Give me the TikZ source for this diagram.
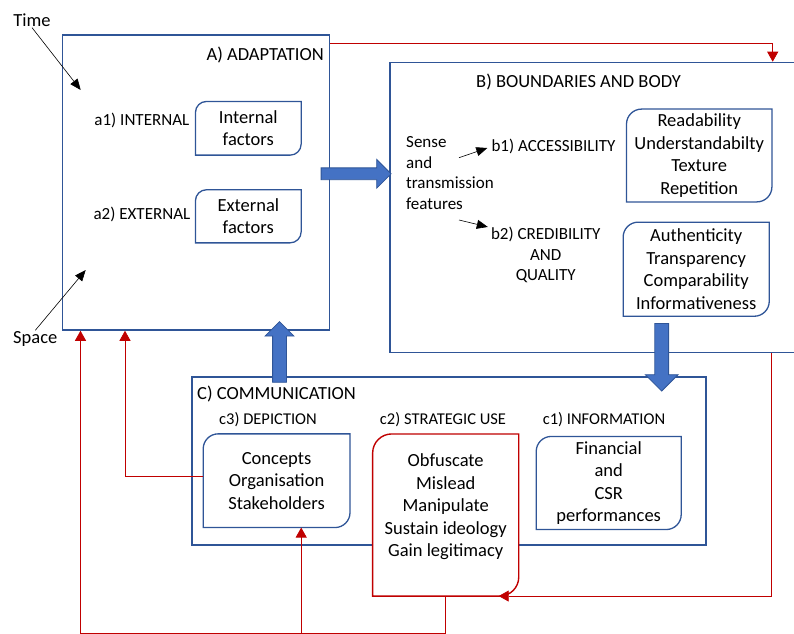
\documentclass[tikz,border=0pt]{standalone}
\usepackage{fontspec}
\setmainfont{Carlito}
\usetikzlibrary{positioning,arrows.meta,shapes.arrows}

\definecolor{bline}{RGB}{47,85,151}
\definecolor{bfill}{RGB}{68,114,196}
\definecolor{dred}{RGB}{192,0,0}

% outline with rounded top-left and bottom-right corners
\newcommand{\cutframe}[3]{\draw[#2] ([yshift=-#3]#1.north west) arc[start angle=180, end angle=90, radius=#3] -- (#1.north east) -- ([yshift=#3]#1.south east) arc[start angle=0, end angle=-90, radius=#3] -- (#1.south west) -- cycle;}

\begin{document}
\begin{tikzpicture}[x=1pt, y=1pt,
  fr/.style={draw=bline, line width=1.5pt, inner sep=0pt},
  tb/.style={align=center, inner sep=0pt, font=\fontsize{18.5}{22.5}\selectfont},
  hd/.style={font=\fontsize{18.5}{22}\selectfont},
  lb/.style={align=center, font=\fontsize{17}{20.5}\selectfont},
  sm/.style={font=\fontsize{16.5}{20}\selectfont},
  pa/.style={-{Triangle[width=9pt, length=11pt]}, line width=0.6pt},
  rl/.style={draw=dred, line width=0.8pt},
  ra/.style={rl, -{Triangle[width=11pt, length=10pt]}},
  ba/.style={single arrow, draw=bline, fill=bfill, line width=0.8pt, inner xsep=0pt, inner ysep=6.5pt, single arrow head extend=7.5pt}]

\useasboundingbox (0,0) rectangle (794,633);
\clip (0,0) rectangle (794,633);

% frames
\node[fr, minimum width=267pt, minimum height=295pt] (A) at (195.8,450.5) {};
\node[fr, minimum width=430pt, minimum height=290pt] (B) at (605,425.5) {};
\node[fr, minimum width=514pt, minimum height=168pt] (C) at (448.9,171.8) {};

% A) adaptation
\node[hd, anchor=east, inner sep=0pt] (At) at (324,578) {A) ADAPTATION};
\node[hd, inner sep=1pt] (T) at (32,613) {Time};
\node[hd, inner sep=1pt] (sp) at (35.3,294) {Space};
\coordinate (tA) at (80.7,543);
\coordinate (sA) at (85.7,363);
\draw[pa] (T.south) -- (tA);
\draw[pa] (sp.north) -- (sA);

\node[tb, minimum width=105.3pt, minimum height=53.3pt] (a1) at (248.3,504.7) {Internal\\factors};
\node[lb, inner sep=0pt, left=6pt of a1, yshift=8.3pt] (a1l) {a1) INTERNAL};
\node[tb, minimum width=105.3pt, minimum height=52.7pt] (a2) at (248.3,416.7) {External\\factors};
\node[lb, inner sep=0pt, left=5pt of a2, yshift=2.3pt] (a2l) {a2) EXTERNAL};
\cutframe{a1}{bline, line width=1.3pt}{11pt}
\cutframe{a2}{bline, line width=1.3pt}{11pt}

% B) boundaries and body
\node[hd] (Bt) at (578.5,550.7) {B) BOUNDARIES AND BODY};
\node[lb, align=left, anchor=west, inner sep=0pt] (sn) at (406,460) {Sense\\and\\transmission\\features};
\node[lb, anchor=west, inner sep=0pt] (b1) at (491.3,487) {b1) ACCESSIBILITY};
\node[lb, inner sep=0pt] (b2) at (545.7,378) {b2) CREDIBILITY\\AND\\QUALITY};
\coordinate (p1) at (459,475.3);
\coordinate (p2) at (459,413);
\draw[pa] (p1) -- ([xshift=-4pt, yshift=-2pt]b1.west);
\draw[pa] (p2) -- ([xshift=-3pt]b2.north west);

\node[tb, minimum width=145pt, minimum height=92.4pt] (b1t) at (699.2,477.5) {Readability\\Understandabilty\\Texture\\Repetition};
\node[tb, minimum width=145.7pt, minimum height=93.7pt] (b2t) at (696.2,363.8) {Authenticity\\Transparency\\Comparability\\Informativeness};
\cutframe{b1t}{bline, line width=1.3pt}{15pt}
\cutframe{b2t}{bline, line width=1.3pt}{15pt}

% C) communication
\node[hd, anchor=west, inner sep=0pt] (Ct) at (197,239) {C) COMMUNICATION};
\node[sm] (c3l) at (268,213) {c3) DEPICTION};
\node[sm] (c2l) at (443,213) {c2) STRATEGIC USE};
\node[sm] (c1l) at (604,213) {c1) INFORMATION};

\node[tb, minimum width=146.4pt, minimum height=93.3pt] (c3) at (276.6,152.3) {Concepts\\Organisation\\Stakeholders};
\node[tb, minimum width=145.7pt, minimum height=161.7pt] (c2) at (445.7,118) {};
\cutframe{c2}{dred, fill=white, line width=1.4pt}{19pt}
\node[tb] (c2x) at ([yshift=8pt]c2.center) {Obfuscate\\Mislead\\Manipulate\\Sustain ideology\\Gain legitimacy};
\node[tb, minimum width=144.6pt, minimum height=92.7pt] (c1) at (608.7,150) {Financial\\and\\CSR\\performances};
\cutframe{c3}{bline, line width=1.3pt}{15pt}
\cutframe{c1}{bline, line width=1.3pt}{15pt}

% block arrows
\node[ba, minimum height=70pt, inner ysep=5.5pt, single arrow head extend=8.5pt, anchor=tail] (AB) at (320.7,459.2) {};
\node[ba, rotate=90, minimum height=60.7pt, anchor=tail] (CA) at (279.5,250.3) {};
\node[ba, rotate=-90, minimum height=67.7pt, single arrow head extend=9.5pt, anchor=tail] (BC) at (661.7,310) {};

% red feedback lines
\coordinate (bl) at (80.5,-0.1);
\draw[ra] ([yshift=-9pt]A.north east) -| ([xshift=167.7pt]B.north);
\draw[ra] ([xshift=166pt]B.south) |- ([xshift=53pt]c2.south);
\draw[ra] (c2.south) |- (bl) -- (bl |- A.south);
\draw[ra] ([xshift=24.6pt]c3.south |- bl) -- ([xshift=24.6pt]c3.south);
\draw[ra] ([yshift=4.7pt]c3.west) -| ([xshift=-70.8pt]A.south);
\end{tikzpicture}
\end{document}
